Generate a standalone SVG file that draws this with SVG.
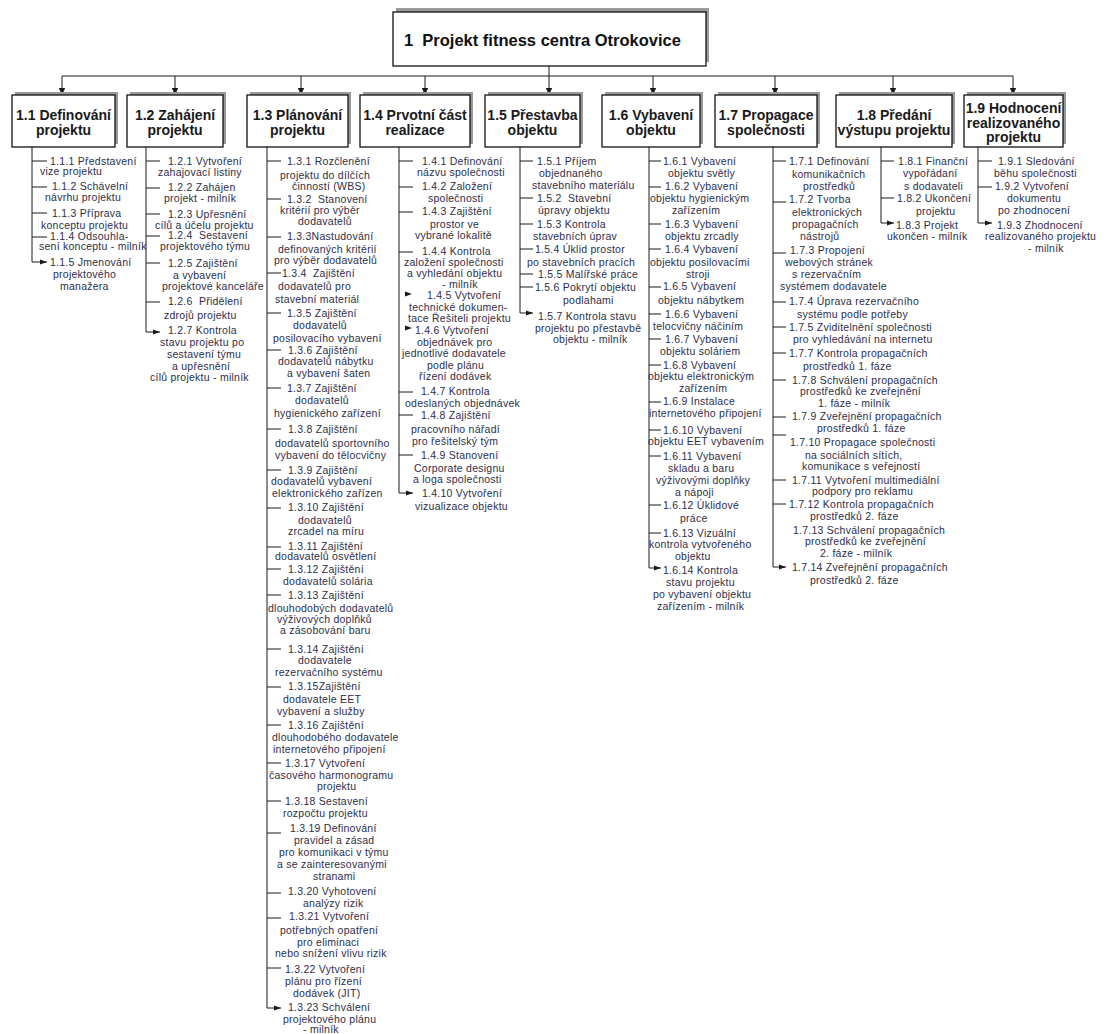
<svg xmlns="http://www.w3.org/2000/svg" width="1111" height="1034" viewBox="0 0 1111 1034">
<style>
.box{fill:#fff;stroke:#111;stroke-width:1.3}
.sh{fill:#9a9a9a}
.t1{font-family:"Liberation Sans",Arial,sans-serif;font-size:16.5px;font-weight:bold;fill:#111;white-space:pre}
.t2{font-family:"Liberation Sans",Arial,sans-serif;font-size:14px;font-weight:bold;fill:#1a1a1a;text-anchor:middle}
.c{font-family:"Liberation Sans",Arial,sans-serif;font-size:10.5px;letter-spacing:0.25px;fill:#2e2e48;white-space:pre}
.ln{stroke:#1a1a1a;stroke-width:1;fill:none}
.ca{stroke:#1a1a1a;stroke-width:1;fill:none;marker-end:url(#ah)}
.ma{stroke:#1a1a1a;stroke-width:1;fill:none;marker-end:url(#mh)}
.hd{fill:#1a1a1a}
</style>
<defs>
<marker id="ah" markerUnits="userSpaceOnUse" markerWidth="7" markerHeight="6" refX="7" refY="3" orient="auto"><path d="M0,0.5 L7,3 L0,5.5 z" fill="#1a1a1a"/></marker>
<marker id="mh" markerUnits="userSpaceOnUse" markerWidth="7" markerHeight="8" refX="7" refY="4" orient="auto"><path d="M0,0.8 L7,4 L0,7.2 z" fill="#1a1a1a"/></marker>
</defs>
<rect width="1111" height="1034" fill="#fff"/>

<g id="connectors">
<path class="ln" d="M549,66 V76 M62,76 H1013"/>
<path class="ma" d="M62,76 V95"/>
<path class="ma" d="M175,76 V95"/>
<path class="ma" d="M301,76 V95"/>
<path class="ma" d="M425,76 V95"/>
<path class="ma" d="M549,76 V95"/>
<path class="ma" d="M653,76 V95"/>
<path class="ma" d="M775,76 V95"/>
<path class="ma" d="M893,76 V95"/>
<path class="ma" d="M1013,76 V95"/>
<path class="ln" d="M32,147 V262"/>
<path class="ca" d="M32,161 H47 M32,187 H47 M32,213 H47 M32,237 H47 M32,262 H47"/>
<path class="ln" d="M146,147 V332"/>
<path class="ca" d="M146,161 H160 M146,188 H160 M146,214 H160 M146,236 H160 M146,263 H160 M146,302 H160 M146,332 H160"/>
<path class="ln" d="M267,147 V1008"/>
<path class="ca" d="M267,161 H281 M267,199 H281 M267,237 H281 M267,273 H281 M267,313 H281 M267,350 H281 M267,388 H281 M267,429 H281 M267,470 H281 M267,508 H281 M267,547 H281 M267,569 H281 M267,595 H281 M267,649 H281 M267,687 H281 M267,725 H281 M267,763 H281 M267,801 H281 M267,833 H281 M267,893 H281 M267,918 H281 M267,968 H281 M267,1008 H281"/>
<path class="ln" d="M399,147 V493"/>
<path class="ca" d="M399,161 H413 M399,187 H413 M399,212 H413 M399,252 H413 M399,392 H413 M399,415 H413 M399,455 H413 M399,493 H413"/>
<path class="hd" d="M405,291.5 L412,294 L405,296.5 z M405,325.5 L412,328 L405,330.5 z"/>
<path class="ln" d="M520,147 V313"/>
<path class="ca" d="M520,161 H533 M520,198 H533 M520,224 H533 M520,249 H533 M520,274 H533 M520,287 H533 M520,313 H533"/>
<path class="ln" d="M649,147 V568"/>
<path class="ca" d="M649,161 H661 M649,187 H661 M649,224 H661 M649,249 H661 M649,287 H661 M649,314 H661 M649,339 H661 M649,365 H661 M649,402 H661 M649,430 H661 M649,456 H661 M649,505 H661 M649,533 H661 M649,568 H661"/>
<path class="ln" d="M773,147 V567"/>
<path class="ca" d="M773,161 H786 M773,202 H786 M773,253 H786 M773,302 H786 M773,327 H786 M773,353 H786 M773,380 H786 M773,417 H786 M773,435 H786 M773,480 H786 M773,504 H786 M773,567 H786"/>
<path class="ln" d="M881,147 V223"/>
<path class="ca" d="M881,161 H894 M881,198 H894 M881,223 H894"/>
<path class="ln" d="M978,147 V223"/>
<path class="ca" d="M978,161 H992 M978,187 H992 M978,223 H992"/>
</g>

<g id="n1">
<rect class="sh" x="396" y="8" width="313" height="54"/>
<rect class="box" x="393" y="12" width="313" height="54"/>
<text class="t1" x="404" y="46">1  Projekt fitness centra Otrokovice</text>
</g>

<g id="n1-1"><rect class="sh" x="15" y="92" width="103" height="52"/><rect class="box" x="12" y="95" width="103" height="52"/>
<text class="t2"><tspan x="63.5" y="120">1.1 Definování</tspan><tspan x="63.5" y="135">projektu</tspan></text></g>
<g id="n1-2"><rect class="sh" x="130" y="92" width="96" height="52"/><rect class="box" x="127" y="95" width="96" height="52"/>
<text class="t2"><tspan x="175" y="120">1.2 Zahájení</tspan><tspan x="175" y="135">projektu</tspan></text></g>
<g id="n1-3"><rect class="sh" x="250" y="92" width="101" height="52"/><rect class="box" x="247" y="95" width="101" height="52"/>
<text class="t2"><tspan x="297.5" y="120">1.3 Plánování</tspan><tspan x="297.5" y="135">projektu</tspan></text></g>
<g id="n1-4"><rect class="sh" x="363" y="92" width="110" height="52"/><rect class="box" x="360" y="95" width="110" height="52"/>
<text class="t2"><tspan x="415" y="120">1.4 Prvotní část</tspan><tspan x="415" y="135">realizace</tspan></text></g>
<g id="n1-5"><rect class="sh" x="488" y="92" width="95" height="52"/><rect class="box" x="485" y="95" width="95" height="52"/>
<text class="t2"><tspan x="532.5" y="120">1.5 Přestavba</tspan><tspan x="532.5" y="135">objektu</tspan></text></g>
<g id="n1-6"><rect class="sh" x="605" y="92" width="98" height="52"/><rect class="box" x="602" y="95" width="98" height="52"/>
<text class="t2"><tspan x="651" y="120">1.6 Vybavení</tspan><tspan x="651" y="135">objektu</tspan></text></g>
<g id="n1-7"><rect class="sh" x="718" y="92" width="102" height="52"/><rect class="box" x="715" y="95" width="102" height="52"/>
<text class="t2"><tspan x="766" y="120">1.7 Propagace</tspan><tspan x="766" y="135">společnosti</tspan></text></g>
<g id="n1-8"><rect class="sh" x="839" y="92" width="116" height="52"/><rect class="box" x="836" y="95" width="116" height="52"/>
<text class="t2"><tspan x="894" y="120">1.8 Předání</tspan><tspan x="894" y="135">výstupu projektu</tspan></text></g>
<g id="n1-9"><rect class="sh" x="967" y="92" width="99" height="52"/><rect class="box" x="964" y="95" width="99" height="52"/>
<text class="t2"><tspan x="1013.5" y="113">1.9 Hodnocení</tspan><tspan x="1013.5" y="128">realizovaného</tspan><tspan x="1013.5" y="142">projektu</tspan></text></g>

<g id="n1-1-1"><text class="c"><tspan x="50" y="164.5">1.1.1 Představení</tspan><tspan x="40" y="174.5">vize projektu</tspan></text></g>
<g id="n1-1-2"><text class="c"><tspan x="52" y="190">1.1.2 Schávelní</tspan><tspan x="45" y="201">návrhu projektu</tspan></text></g>
<g id="n1-1-3"><text class="c"><tspan x="52" y="217">1.1.3 Příprava</tspan><tspan x="41" y="228.5">konceptu projektu</tspan></text></g>
<g id="n1-1-4"><text class="c"><tspan x="50" y="240">1.1.4 Odsouhla-</tspan><tspan x="39" y="250">sení konceptu - milník</tspan></text></g>
<g id="n1-1-5"><text class="c"><tspan x="50" y="266">1.1.5 Jmenování</tspan><tspan x="53" y="278">projektového</tspan><tspan x="60" y="290">manažera</tspan></text></g>

<g id="n1-2-1"><text class="c"><tspan x="168" y="164.5">1.2.1 Vytvoření</tspan><tspan x="158" y="176">zahajovací listiny</tspan></text></g>
<g id="n1-2-2"><text class="c"><tspan x="168" y="191">1.2.2 Zahájen</tspan><tspan x="164" y="202">projekt - milník</tspan></text></g>
<g id="n1-2-3"><text class="c"><tspan x="168" y="218">1.2.3 Upřesnění</tspan><tspan x="155" y="228.5">cílů a účelu projektu</tspan></text></g>
<g id="n1-2-4"><text class="c"><tspan x="168" y="239">1.2.4  Sestavení</tspan><tspan x="160" y="250">projektového týmu</tspan></text></g>
<g id="n1-2-5"><text class="c"><tspan x="168" y="267">1.2.5 Zajištění</tspan><tspan x="173" y="278.5">a vybavení</tspan><tspan x="162" y="290">projektové kanceláře</tspan></text></g>
<g id="n1-2-6"><text class="c"><tspan x="168" y="305">1.2.6  Přidělení</tspan><tspan x="164" y="318.5">zdrojů projektu</tspan></text></g>
<g id="n1-2-7"><text class="c"><tspan x="168" y="333.5">1.2.7 Kontrola</tspan><tspan x="160" y="346">stavu projektu po</tspan><tspan x="167" y="358">sestavení týmu</tspan><tspan x="172" y="370">a upřesnění</tspan><tspan x="150" y="381">cílů projektu - milník</tspan></text></g>

<g id="n1-3-1"><text class="c"><tspan x="287" y="164.5">1.3.1 Rozčlenění</tspan><tspan x="280" y="178.5">projektu do dílčích</tspan><tspan x="292" y="190">činností (WBS)</tspan></text></g>
<g id="n1-3-2"><text class="c"><tspan x="287" y="202.5">1.3.2  Stanovení</tspan><tspan x="280" y="213.5">kritérií pro výběr</tspan><tspan x="298" y="225">dodavatelů</tspan></text></g>
<g id="n1-3-3"><text class="c"><tspan x="287" y="240">1.3.3Nastudování</tspan><tspan x="278" y="253">definovaných kritérií</tspan><tspan x="274" y="264">pro výběr dodavatelů</tspan></text></g>
<g id="n1-3-4"><text class="c"><tspan x="282" y="277">1.3.4  Zajištění</tspan><tspan x="278" y="290">dodavatelů pro</tspan><tspan x="275" y="303">stavební materiál</tspan></text></g>
<g id="n1-3-5"><text class="c"><tspan x="287" y="317">1.3.5 Zajištění</tspan><tspan x="293" y="328.5">dodavatelů</tspan><tspan x="273" y="342">posilovacího vybavení</tspan></text></g>
<g id="n1-3-6"><text class="c"><tspan x="288" y="353.5">1.3.6 Zajištění</tspan><tspan x="278" y="365">dodavatelů nábytku</tspan><tspan x="287" y="377">a vybavení šaten</tspan></text></g>
<g id="n1-3-7"><text class="c"><tspan x="287" y="392">1.3.7 Zajištění</tspan><tspan x="295" y="403.5">dodavatelů</tspan><tspan x="274" y="417">hygienického zařízení</tspan></text></g>
<g id="n1-3-8"><text class="c"><tspan x="288" y="433">1.3.8 Zajištění</tspan><tspan x="275" y="447">dodavatelů sportovního</tspan><tspan x="275" y="458.5">vybavení do tělocvičny</tspan></text></g>
<g id="n1-3-9"><text class="c"><tspan x="288" y="473.5">1.3.9 Zajištění</tspan><tspan x="271" y="485">dodavatelů vybavení</tspan><tspan x="272" y="497">elektronického zařízen</tspan></text></g>
<g id="n1-3-10"><text class="c"><tspan x="288" y="511">1.3.10 Zajištění</tspan><tspan x="298" y="523.5">dodavatelů</tspan><tspan x="288" y="535">zrcadel na míru</tspan></text></g>
<g id="n1-3-11"><text class="c"><tspan x="288" y="550">1.3.11 Zajištění</tspan><tspan x="275" y="560">dodavatelů osvětlení</tspan></text></g>
<g id="n1-3-12"><text class="c"><tspan x="288" y="573">1.3.12 Zajištění</tspan><tspan x="283" y="585">dodavatelů solária</tspan></text></g>
<g id="n1-3-13"><text class="c"><tspan x="288" y="598.5">1.3.13 Zajištění</tspan><tspan x="268" y="612">dlouhodobých dodavatelů</tspan><tspan x="277" y="623">výživových doplňků</tspan><tspan x="280" y="634">a zásobování baru</tspan></text></g>
<g id="n1-3-14"><text class="c"><tspan x="288" y="653">1.3.14 Zajištění</tspan><tspan x="298" y="664">dodavatele</tspan><tspan x="275" y="676">rezervačního systému</tspan></text></g>
<g id="n1-3-15"><text class="c"><tspan x="288" y="690">1.3.15Zajištění</tspan><tspan x="283" y="703">dodavatele EET</tspan><tspan x="277" y="715">vybavení a služby</tspan></text></g>
<g id="n1-3-16"><text class="c"><tspan x="288" y="728.5">1.3.16 Zajištění</tspan><tspan x="272" y="741">dlouhodobého dodavatele</tspan><tspan x="273" y="753">internetového připojení</tspan></text></g>
<g id="n1-3-17"><text class="c"><tspan x="285" y="767">1.3.17 Vytvoření</tspan><tspan x="269" y="778.5">časového harmonogramu</tspan><tspan x="317" y="790">projektu</tspan></text></g>
<g id="n1-3-18"><text class="c"><tspan x="285" y="804.5">1.3.18 Sestavení</tspan><tspan x="283" y="817">rozpočtu projektu</tspan></text></g>
<g id="n1-3-19"><text class="c"><tspan x="290" y="832">1.3.19 Definování</tspan><tspan x="294" y="844">pravidel a zásad</tspan><tspan x="279" y="856">pro komunikaci v týmu</tspan><tspan x="277" y="867.5">a se zainteresovanými</tspan><tspan x="313" y="879.5">stranami</tspan></text></g>
<g id="n1-3-20"><text class="c"><tspan x="288" y="895">1.3.20 Vyhotovení</tspan><tspan x="303" y="907">analýzy rizik</tspan></text></g>
<g id="n1-3-21"><text class="c"><tspan x="289" y="920">1.3.21 Vytvoření</tspan><tspan x="280" y="934">potřebných opatření</tspan><tspan x="297" y="946">pro eliminaci</tspan><tspan x="275" y="957">nebo snížení vlivu rizik</tspan></text></g>
<g id="n1-3-22"><text class="c"><tspan x="285" y="973">1.3.22 Vytvoření</tspan><tspan x="285" y="985">plánu pro řízení</tspan><tspan x="293" y="997">dodávek (JIT)</tspan></text></g>
<g id="n1-3-23"><text class="c"><tspan x="288" y="1011">1.3.23 Schválení</tspan><tspan x="283" y="1022.5">projektového plánu</tspan><tspan x="303" y="1033">- milník</tspan></text></g>

<g id="n1-4-1"><text class="c"><tspan x="422" y="164.5">1.4.1 Definování</tspan><tspan x="417" y="176">názvu společnosti</tspan></text></g>
<g id="n1-4-2"><text class="c"><tspan x="422" y="190">1.4.2 Založení</tspan><tspan x="428" y="202">společnosti</tspan></text></g>
<g id="n1-4-3"><text class="c"><tspan x="422" y="215">1.4.3 Zajištění</tspan><tspan x="430" y="228">prostor ve</tspan><tspan x="415" y="239">vybrané lokalitě</tspan></text></g>
<g id="n1-4-4"><text class="c"><tspan x="422" y="254.5">1.4.4 Kontrola</tspan><tspan x="404" y="266">založení společnosti</tspan><tspan x="407" y="276.5">a vyhledání objektu</tspan><tspan x="442" y="288">- milník</tspan></text></g>
<g id="n1-4-5"><text class="c"><tspan x="427" y="298.5">1.4.5 Vytvoření</tspan><tspan x="409" y="311">technické dokumen-</tspan><tspan x="408" y="322">tace Řešiteli projektu</tspan></text></g>
<g id="n1-4-6"><text class="c"><tspan x="415" y="333.5">1.4.6 Vytvoření</tspan><tspan x="417" y="345.5">objednávek pro</tspan><tspan x="402" y="357">jednotlivé dodavatele</tspan><tspan x="427" y="368.5">podle plánu</tspan><tspan x="419" y="379.5">řízení dodávek</tspan></text></g>
<g id="n1-4-7"><text class="c"><tspan x="421" y="395">1.4.7 Kontrola</tspan><tspan x="405" y="407">odeslaných objednávek</tspan></text></g>
<g id="n1-4-8"><text class="c"><tspan x="421" y="418.5">1.4.8 Zajištění</tspan><tspan x="411" y="433">pracovního nářadí</tspan><tspan x="412" y="444.5">pro řešitelský tým</tspan></text></g>
<g id="n1-4-9"><text class="c"><tspan x="421" y="458.5">1.4.9 Stanovení</tspan><tspan x="414" y="472">Corporate designu</tspan><tspan x="413" y="483">a loga společnosti</tspan></text></g>
<g id="n1-4-10"><text class="c"><tspan x="422" y="497">1.4.10 Vytvoření</tspan><tspan x="415" y="510">vizualizace objektu</tspan></text></g>

<g id="n1-5-1"><text class="c"><tspan x="537" y="164.5">1.5.1 Příjem</tspan><tspan x="539" y="177">objednaného</tspan><tspan x="532" y="189">stavebního materiálu</tspan></text></g>
<g id="n1-5-2"><text class="c"><tspan x="537" y="202">1.5.2  Stavební</tspan><tspan x="538" y="214">úpravy objektu</tspan></text></g>
<g id="n1-5-3"><text class="c"><tspan x="537" y="228">1.5.3 Kontrola</tspan><tspan x="533" y="240">stavebních úprav</tspan></text></g>
<g id="n1-5-4"><text class="c"><tspan x="535" y="253">1.5.4 Úklid prostor</tspan><tspan x="527" y="266">po stavebních pracích</tspan></text></g>
<g id="n1-5-5"><text class="c"><tspan x="538" y="278">1.5.5 Malířské práce</tspan></text></g>
<g id="n1-5-6"><text class="c"><tspan x="535" y="291">1.5.6 Pokrytí objektu</tspan><tspan x="563" y="303.5">podlahami</tspan></text></g>
<g id="n1-5-7"><text class="c"><tspan x="538" y="320">1.5.7 Kontrola stavu</tspan><tspan x="535" y="332">projektu po přestavbě</tspan><tspan x="553" y="343">objektu - milník</tspan></text></g>

<g id="n1-6-1"><text class="c"><tspan x="663" y="164.5">1.6.1 Vybavení</tspan><tspan x="668" y="177">objektu světly</tspan></text></g>
<g id="n1-6-2"><text class="c"><tspan x="665" y="190">1.6.2 Vybavení</tspan><tspan x="650" y="202">objektu hygienickým</tspan><tspan x="672" y="213.5">zařízením</tspan></text></g>
<g id="n1-6-3"><text class="c"><tspan x="665" y="228">1.6.3 Vybavení</tspan><tspan x="665" y="240">objektu zrcadly</tspan></text></g>
<g id="n1-6-4"><text class="c"><tspan x="665" y="253">1.6.4 Vybavení</tspan><tspan x="650" y="266">objektu posilovacími</tspan><tspan x="686" y="278">stroji</tspan></text></g>
<g id="n1-6-5"><text class="c"><tspan x="663" y="290">1.6.5 Vybavení</tspan><tspan x="658" y="304">objektu nábytkem</tspan></text></g>
<g id="n1-6-6"><text class="c"><tspan x="665" y="317.5">1.6.6 Vybavení</tspan><tspan x="653" y="330">telocvičny náčiním</tspan></text></g>
<g id="n1-6-7"><text class="c"><tspan x="665" y="343">1.6.7 Vybavení</tspan><tspan x="660" y="355">objektu soláriem</tspan></text></g>
<g id="n1-6-8"><text class="c"><tspan x="663" y="368.5">1.6.8 Vybavení</tspan><tspan x="648" y="380">objektu elektronickým</tspan><tspan x="679" y="392">zařízením</tspan></text></g>
<g id="n1-6-9"><text class="c"><tspan x="663" y="405">1.6.9 Instalace</tspan><tspan x="649" y="417">internetového připojení</tspan></text></g>
<g id="n1-6-10"><text class="c"><tspan x="663" y="433.5">1.6.10 Vybavení</tspan><tspan x="648" y="445">objektu EET vybavením</tspan></text></g>
<g id="n1-6-11"><text class="c"><tspan x="663" y="459.5">1.6.11 Vybavení</tspan><tspan x="668" y="472">skladu a baru</tspan><tspan x="656" y="484">výživovými doplňky</tspan><tspan x="675" y="496">a nápoji</tspan></text></g>
<g id="n1-6-12"><text class="c"><tspan x="663" y="508.5">1.6.12 Úklidové</tspan><tspan x="680" y="522">práce</tspan></text></g>
<g id="n1-6-13"><text class="c"><tspan x="663" y="537">1.6.13 Vizuální</tspan><tspan x="649" y="548">kontrola vytvořeného</tspan><tspan x="675" y="559.5">objektu</tspan></text></g>
<g id="n1-6-14"><text class="c"><tspan x="663" y="573.5">1.6.14 Kontrola</tspan><tspan x="666" y="586">stavu projektu</tspan><tspan x="653" y="598">po vybavení objektu</tspan><tspan x="657" y="609.5">zařízením - milník</tspan></text></g>

<g id="n1-7-1"><text class="c"><tspan x="789" y="164.5">1.7.1 Definování</tspan><tspan x="792" y="178">komunikačních</tspan><tspan x="803" y="190">prostředků</tspan></text></g>
<g id="n1-7-2"><text class="c"><tspan x="789" y="203">1.7.2 Tvorba</tspan><tspan x="792" y="216">elektronických</tspan><tspan x="792" y="228">propagačních</tspan><tspan x="800" y="239.5">nástrojů</tspan></text></g>
<g id="n1-7-3"><text class="c"><tspan x="790" y="253.5">1.7.3 Propojení</tspan><tspan x="785" y="266">webových stránek</tspan><tspan x="792" y="278">s rezervačním</tspan><tspan x="780" y="290">systémem dodavatele</tspan></text></g>
<g id="n1-7-4"><text class="c"><tspan x="789" y="305">1.7.4 Úprava rezervačního</tspan><tspan x="797" y="317.5">systému podle potřeby</tspan></text></g>
<g id="n1-7-5"><text class="c"><tspan x="789" y="331">1.7.5 Zviditelnění společnosti</tspan><tspan x="793" y="343">pro vyhledávání na internetu</tspan></text></g>
<g id="n1-7-7"><text class="c"><tspan x="789" y="357">1.7.7 Kontrola propagačních</tspan><tspan x="803" y="369.5">prostředků 1. fáze</tspan></text></g>
<g id="n1-7-8"><text class="c"><tspan x="792" y="383.5">1.7.8 Schválení propagačních</tspan><tspan x="800" y="395">prostředků ke zveřejnění</tspan><tspan x="818" y="407">1. fáze - milník</tspan></text></g>
<g id="n1-7-9"><text class="c"><tspan x="792" y="420">1.7.9 Zveřejnění propagačních</tspan><tspan x="817" y="432">prostředků 1. fáze</tspan></text></g>
<g id="n1-7-10"><text class="c"><tspan x="790" y="446">1.7.10 Propagace společnosti</tspan><tspan x="805" y="458.5">na sociálních sítích,</tspan><tspan x="802" y="470">komunikace s veřejností</tspan></text></g>
<g id="n1-7-11"><text class="c"><tspan x="792" y="483.5">1.7.11 Vytvoření multimediální</tspan><tspan x="812" y="495">podpory pro reklamu</tspan></text></g>
<g id="n1-7-12"><text class="c"><tspan x="789" y="508">1.7.12 Kontrola propagačních</tspan><tspan x="810" y="520">prostředků 2. fáze</tspan></text></g>
<g id="n1-7-13"><text class="c"><tspan x="793" y="533.5">1.7.13 Schválení propagačních</tspan><tspan x="805" y="545">prostředků ke zveřejnění</tspan><tspan x="820" y="557">2. fáze - milník</tspan></text></g>
<g id="n1-7-14"><text class="c"><tspan x="792" y="571">1.7.14 Zveřejnění propagačních</tspan><tspan x="810" y="583.5">prostředků 2. fáze</tspan></text></g>

<g id="n1-8-1"><text class="c"><tspan x="898" y="164.5">1.8.1 Finanční</tspan><tspan x="903" y="177">vypořádaní</tspan><tspan x="904" y="189.5">s dodavateli</tspan></text></g>
<g id="n1-8-2"><text class="c"><tspan x="897" y="202">1.8.2 Ukončení</tspan><tspan x="916" y="215">projektu</tspan></text></g>
<g id="n1-8-3"><text class="c"><tspan x="896" y="228.5">1.8.3 Projekt</tspan><tspan x="887" y="240">ukončen - milník</tspan></text></g>

<g id="n1-9-1"><text class="c"><tspan x="998" y="164.5">1.9.1 Sledování</tspan><tspan x="994" y="177">běhu společnosti</tspan></text></g>
<g id="n1-9-2"><text class="c"><tspan x="995" y="190">1.9.2 Vytvoření</tspan><tspan x="1007" y="202">dokumentu</tspan><tspan x="998" y="213.5">po zhodnocení</tspan></text></g>
<g id="n1-9-3"><text class="c"><tspan x="997" y="228.5">1.9.3 Zhodnocení</tspan><tspan x="985" y="240">realizovaného projektu</tspan><tspan x="1028" y="252">- milník</tspan></text></g>
</svg>
